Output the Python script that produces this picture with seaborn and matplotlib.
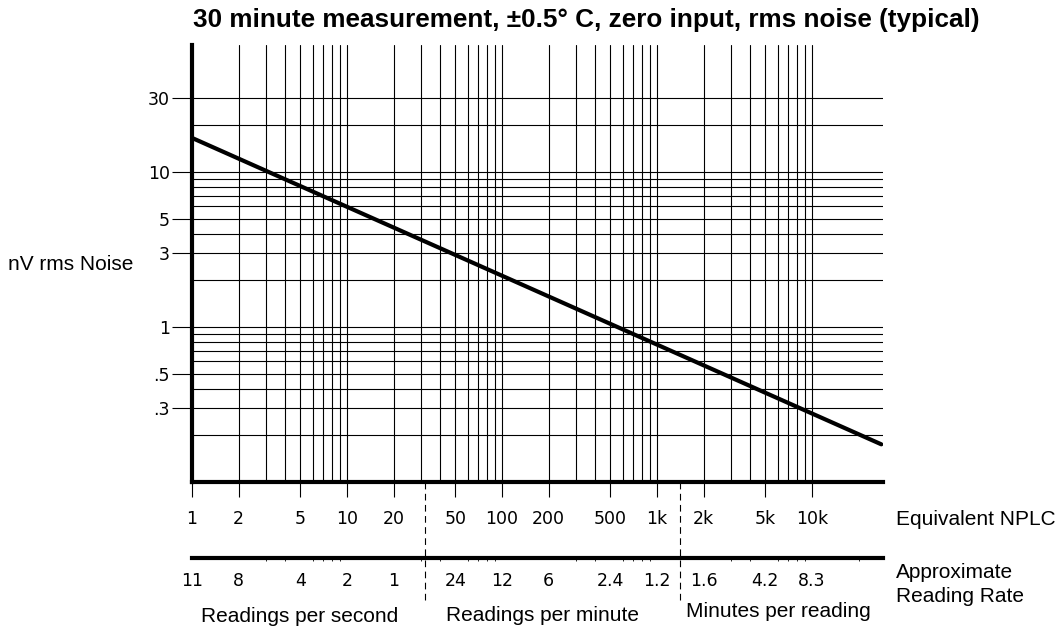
import matplotlib
matplotlib.use("Agg")
import matplotlib.pyplot as plt
import matplotlib.transforms as mtransforms
import seaborn as sns
import pandas as pd

# Data
nplc = [1, 28000]
noise_nv = [16.6, 0.175]

nplc_ticks = [1, 2, 5, 10, 20, 50, 100, 200, 500, 1000, 2000, 5000, 10000]
nplc_labels = ['1', '2', '5', '10', '20', '50', '100', '200', '500', '1k', '2k', '5k', '10k']
rate_labels = ['11', '8', '4', '2', '1', '24', '12', '6', '2.4', '1.2', '1.6', '4.2', '8.3']
noise_ticks = [30, 10, 5, 3, 1, 0.5, 0.3]
noise_labels = ['30', '10', '5', '3', '1', '.5', '.3']
rate_breaks = [32, 1400]
rate_groups = ['Readings per second', 'Readings per minute', 'Minutes per reading']

df = pd.DataFrame({'nplc': nplc, 'noise': noise_nv})

sns.set_style("white")
plt.rcParams['font.family'] = ['Liberation Sans', 'DejaVu Sans']
plt.rcParams['text.color'] = 'black'
plt.rcParams['xtick.color'] = 'black'
plt.rcParams['ytick.color'] = 'black'

W, H = 1063, 627
fig = plt.figure(figsize=(W / 100, H / 100), dpi=100)
ax = fig.add_axes([192 / W, (H - 482) / H, (883 - 192) / W, (482 - 45) / H])

sns.lineplot(data=df, x='nplc', y='noise', color='black', linewidth=3.0, ax=ax)
ax.set_xscale('log')
ax.set_yscale('log')
ax.set_xlim(1, 28700)
ax.set_ylim(0.1, 66)

# grid lines
xgrid = [k * 10 ** d for d in range(4) for k in range(1, 10)] + [10000]
ygrid = [k / 10 for k in range(2, 10)] + list(range(1, 10)) + [10, 20, 30]
ax.set_xticks(xgrid, minor=True)
ax.set_yticks(ygrid, minor=True)
ax.set_xticks(nplc_ticks)
ax.set_xticklabels(nplc_labels, family='DejaVu Sans', fontsize=12.5)
ax.set_yticks(noise_ticks)
ax.set_yticklabels(noise_labels, family='DejaVu Sans', fontsize=12.5)
ax.tick_params(axis='x', which='major', direction='out', length=11, width=0.8, pad=9, bottom=True)
ax.tick_params(axis='y', which='major', direction='out', length=14.4, width=0.8, pad=1.5, left=True)
ax.tick_params(which='minor', length=0)
ax.grid(which='both', color='black', linewidth=0.8)
ax.set_xlabel('')
ax.set_ylabel('')

for s in ['top', 'right']:
    ax.spines[s].set_visible(False)
for s in ['left', 'bottom']:
    ax.spines[s].set_linewidth(3.0)
    ax.spines[s].set_color('black')
    ax.spines[s].set_zorder(5)

# second scale: approximate reading rate
sec = ax.secondary_xaxis(-0.174)
sec.set_xticks(nplc_ticks)
sec.set_xticklabels(rate_labels, family='DejaVu Sans', fontsize=12.5)
sec.tick_params(length=0, pad=10)
sec.spines['bottom'].set_linewidth(3.0)
sec.spines['bottom'].set_color('black')

# dashed separators between rate units
trans = mtransforms.blended_transform_factory(ax.transData, ax.transAxes)
ax.vlines(rate_breaks, -0.27, 0, transform=trans, colors='black', linewidth=0.8,
          linestyles=(0, (6, 4)), clip_on=False)

for cx, by, name in zip([300, 542, 778], [622, 621, 617], rate_groups):
    fig.text(cx / W, 1 - by / H, name, ha='center', va='baseline', fontsize=15)

fig.text(896 / W, 1 - 525 / H, 'Equivalent NPLC', ha='left', va='baseline', fontsize=15)
fig.text(896 / W, 1 - 578 / H, 'Approximate', ha='left', va='baseline', fontsize=15)
fig.text(896 / W, 1 - 602 / H, 'Reading Rate', ha='left', va='baseline', fontsize=15)
fig.text(8 / W, 1 - 265 / H, 'nV rms Noise', ha='left', va='center', fontsize=15)
fig.text(586 / W, 1 - 27 / H, '30 minute measurement, \u00b10.5\u00b0 C, zero input, rms noise (typical)',
         ha='center', va='baseline', fontsize=18.8, fontweight='bold')

fig.savefig('out.png', dpi=100)
